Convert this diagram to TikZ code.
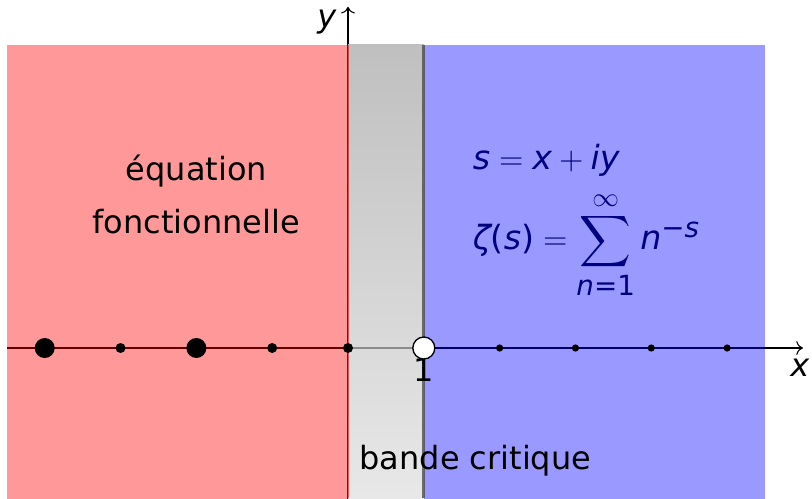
\documentclass[tikz,border=0pt]{standalone}
\usepackage{amsmath}
\usepackage{fontspec}
\setmainfont{DejaVu Sans}
\usepackage[italic]{mathastext}
\usepackage{graphicx}
\usetikzlibrary{arrows.meta}
\tikzset{
  axe/.style={->, draw=black, line width=0.4pt},
  gros/.style={circle, fill=black, inner sep=0pt, minimum size=2.64mm},
  petit/.style={circle, fill=black, inner sep=0pt, minimum size=1.32mm},
  mini/.style={circle, fill=black, inner sep=0pt, minimum size=0.95mm},
  pole/.style={circle, draw=black, fill=white, line width=0.5pt, inner sep=0pt, minimum size=2.9mm},
  txt/.style={font=\fontsize{12}{20}\selectfont, align=center, inner sep=0pt},
  eq/.style={font=\fontsize{12.5}{20}\selectfont, text=blue!50!black, inner sep=0pt}
}
\newcommand{\grandsum}{\mathop{\vcenter{\hbox{\scalebox{1.12}{$\displaystyle\sum$}}}}\limits}
\begin{document}
\begin{tikzpicture}
\useasboundingbox (-4.59,-1.98) rectangle (6.12,4.59);
% axes
\coordinate (xg) at (-4.5,0);
\coordinate (xd) at (6,0);
\coordinate (yb) at (0,-2);
\coordinate (yh) at (0,4.5);
\draw[axe] (xg) -- (xd);
\draw[axe] (yb) -- (yh);
% regions
\fill[red, fill opacity=0.4] (-4.5,-2) rectangle (0,4);
\shade[top color=black!25, bottom color=black!9] (0,-2) rectangle (1,4);
\draw[black!45, line width=0.4pt] (0,0) -- (1,0);
\fill[blue, fill opacity=0.4] (1,-2) rectangle (5.5,4);
\draw[red!85!black, line width=1pt, opacity=0.6] (0,-1.98) -- (0,4);
\draw[black!70, line width=1pt, opacity=0.8] (1,-1.98) -- (1,4);
% zeros and points
\node[gros] (z4) at (-4,0) {};
\node[petit] (z3) at (-3,0) {};
\node[gros] (z2) at (-2,0) {};
\node[petit] (z1) at (-1,0) {};
\node[petit] (z0) at (0,0) {};
\foreach \k in {2,3,4,5}
  \node[mini] (p\k) at (\k,0) {};
\node[txt] (un) at (1,-0.29) {1};
\node[pole] (p1) at (1,0) {};
% labels
\node[txt] (ly) at (-0.28,4.3) {$y$};
\node[txt] (lx) at (5.96,-0.26) {$x$};
\node[txt] (fe) at (-2,2.03) {équation\\fonctionnelle};
\node[txt] (bc) at (1.68,-1.48) {bande critique};
\node[eq, anchor=base west] (es) at (1.64,2.35) {$s=x+iy$};
\node[eq, anchor=base west] (ez) at (1.64,1.3)
  {$\text{\itshape ζ}\text{(}s\text{)}=\grandsum_{\text{\itshape n}\text{=1}}^{\infty} n^{\text{−}s}$};
\end{tikzpicture}
\end{document}
